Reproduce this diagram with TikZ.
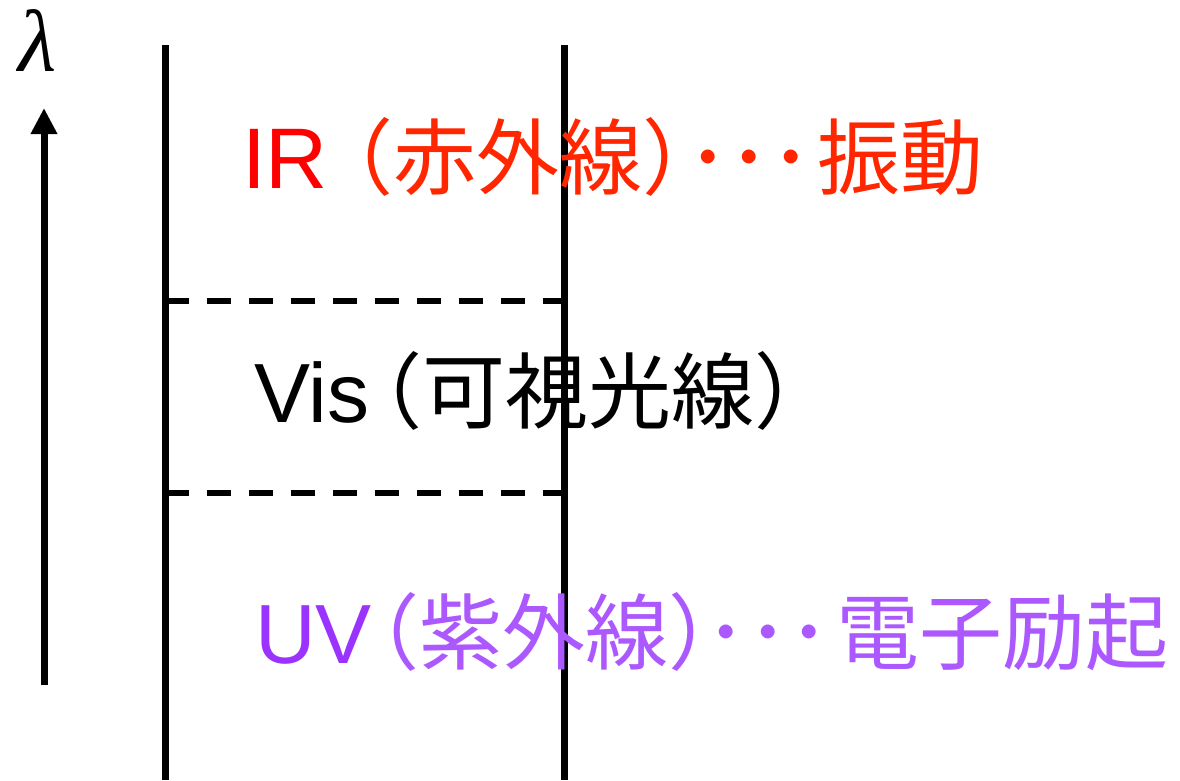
\documentclass[tikz,border=0pt]{standalone}
\usepackage{fontspec}
\setmainfont{Liberation Sans}
\newfontfamily\jp{Noto Sans CJK JP}
\newfontfamily\lamfont{Liberation Serif}
\definecolor{irred}{RGB}{255,0,0}
\definecolor{irjp}{RGB}{255,38,0}
\definecolor{uvlat}{RGB}{155,51,255}
\definecolor{uvjp}{RGB}{172,88,255}
\usetikzlibrary{arrows.meta}
\tikzset{
  wall/.style={line width=7pt},
  sep/.style={line width=6pt, dash pattern=on 24pt off 18pt},
  axis/.style={line width=7pt, -{Triangle[length=26pt,width=25pt]}},
  lbl/.style={anchor=base west, inner sep=0pt, outer sep=0pt},
}
\newcommand{\jps}{\jp\fontsize{83}{90}\selectfont}
\begin{document}
\begin{tikzpicture}[x=1pt,y=-1pt]
\useasboundingbox (0,0) rectangle (1180,780);
% walls
\coordinate (lt) at (165.5,45);
\coordinate (lb) at (165.5,780);
\coordinate (rt) at (564,45);
\coordinate (rb) at (564,780);
\draw[wall] (lt) -- (lb);
\draw[wall] (rt) -- (rb);
% separators
\coordinate (s1l) at (165,300.5);
\coordinate (s1r) at (564,300.5);
\coordinate (s2l) at (165,493);
\coordinate (s2r) at (564,493);
\draw[sep] (s1l) -- (s1r);
\draw[sep] (s2l) -- (s2r);
% axis
\coordinate (ab) at (44,685);
\coordinate (at) at (44,108);
\draw[axis] (ab) -- (at);
\node[inner sep=0pt] (lam) at (37.5,41) {\lamfont\itshape\fontsize{88}{90}\selectfont λ};
% labels
\node[lbl, text=irred] (ir) at (242,188) {\fontsize{86}{90}\selectfont IR{\jps\color{irjp}\kern-18pt（赤外線）\kern-38pt･･･\kern6pt振動}};
\node[lbl] (vis) at (254,422) {\fontsize{84}{90}\selectfont Vis{\jps\kern-30pt（可視光線）}};
\node[lbl, text=uvlat] (uv) at (255,663) {\fontsize{84}{90}\selectfont UV{\jps\color{uvjp}\kern-35pt（紫外線）\kern-46pt･･･\kern6pt電子励起}};
\end{tikzpicture}
\end{document}
